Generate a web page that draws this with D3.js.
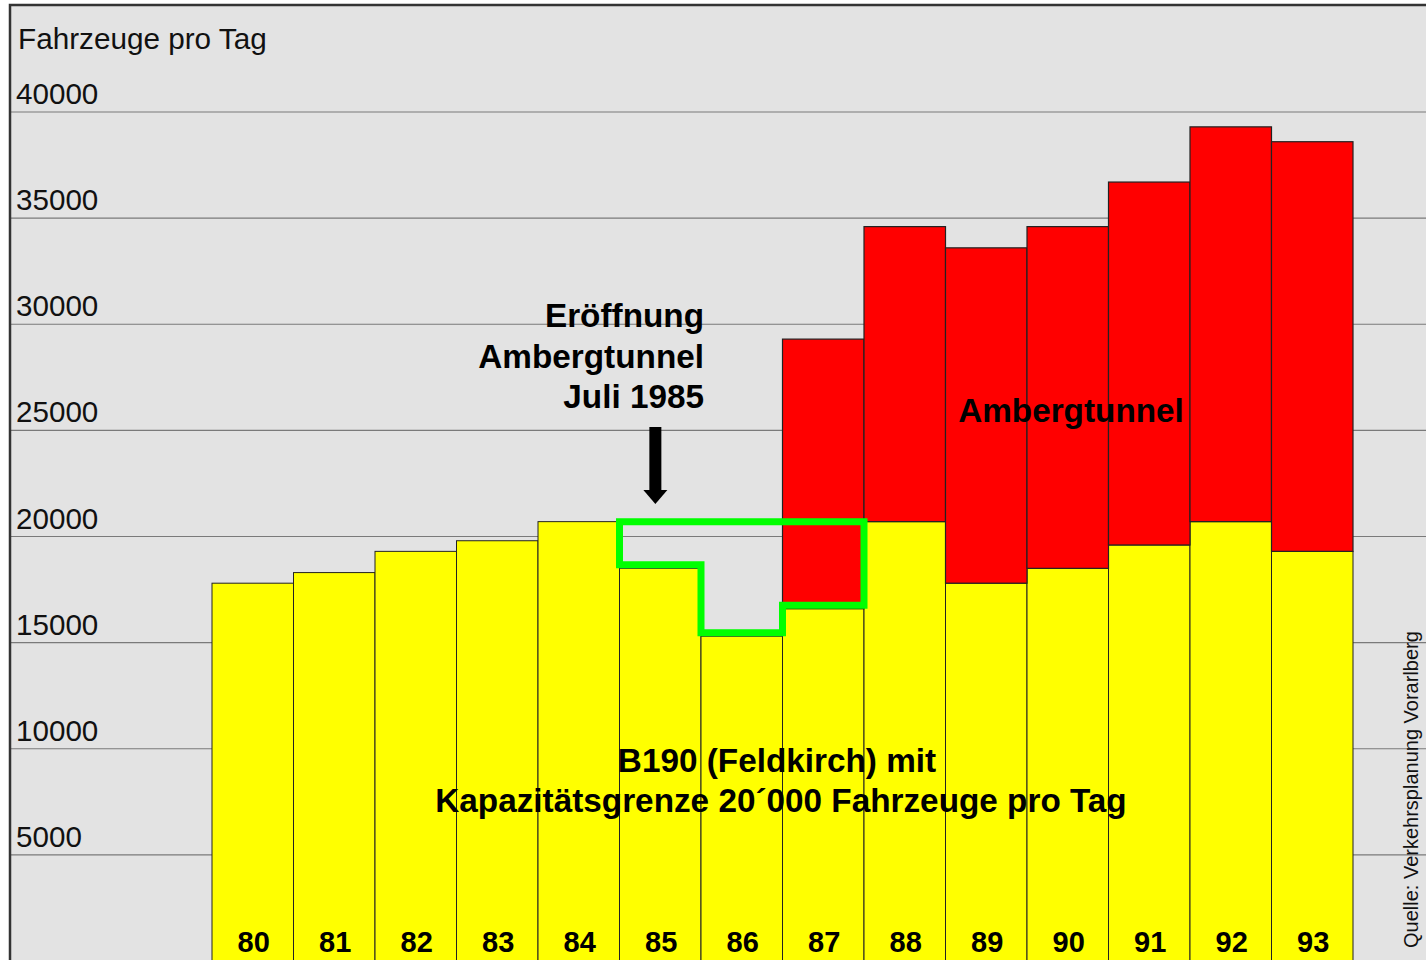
<!DOCTYPE html>
<html>
<head>
<meta charset="utf-8">
<script src="https://cdn.jsdelivr.net/npm/d3@7"></script>
<style>
  html, body { margin: 0; padding: 0; background: #ffffff; }
  svg { display: block; }
  text { font-family: "Liberation Sans", Arial, sans-serif; }
</style>
</head>
<body>
<script>
// Daily traffic through Feldkirch: B190 and Ambergtunnel, 1980–1993
const years = ["80", "81", "82", "83", "84", "85", "86", "87", "88", "89", "90", "91", "92", "93"];
const b190 = [17800, 18300, 19300, 19800, 20700, 18500, 15300, 16600, 20700, 17800, 18500, 19600, 20700, 19300];
const tunnel = [0, 0, 0, 0, 0, 0, 0, 12700, 13900, 15800, 16100, 17100, 18600, 19300];
const yTicks = [5000, 10000, 15000, 20000, 25000, 30000, 35000, 40000];

// Years in which B190 traffic fell short of its previous peak
const gapYears = ["85", "86", "87"];
const gapTop = 20700;

const W = 1426, H = 960;
const frameLeft = 10, frameTop = 5;

const svg = d3.select("body").append("svg")
  .attr("width", W).attr("height", H);

const x = d3.scaleBand().domain(years).range([212, 1353]).padding(0);
const y = d3.scaleLinear().domain([0, 40000]).range([961, 112]);

// plot frame
svg.append("rect")
  .attr("x", frameLeft).attr("y", frameTop)
  .attr("width", W - frameLeft + 5).attr("height", H - frameTop + 5)
  .attr("fill", "#e3e3e3");

// horizontal grid lines
svg.append("g").selectAll("line").data(yTicks).join("line")
  .attr("x1", frameLeft).attr("x2", W)
  .attr("y1", d => y(d)).attr("y2", d => y(d))
  .attr("stroke", "#7a7a7a").attr("stroke-width", 1.2);

// y tick labels, sitting above their grid lines
svg.append("g").selectAll("text").data(yTicks).join("text")
  .attr("x", 16).attr("y", d => y(d) - 8)
  .attr("font-size", 29.6).attr("fill", "#111")
  .text(d => d);

svg.append("text")
  .attr("x", 18).attr("y", 49)
  .attr("font-size", 29.7).attr("fill", "#111")
  .text("Fahrzeuge pro Tag");

// B190 bars (yellow)
svg.append("g").selectAll("rect").data(years).join("rect")
  .attr("x", d => x(d)).attr("width", x.bandwidth())
  .attr("y", (d, i) => y(b190[i]))
  .attr("height", (d, i) => y(0) - y(b190[i]))
  .attr("fill", "#ffff00")
  .attr("stroke", "#222").attr("stroke-width", 1);

// Ambergtunnel bars (red), stacked on top
svg.append("g").selectAll("rect").data(years.filter((d, i) => tunnel[i] > 0)).join("rect")
  .attr("x", d => x(d)).attr("width", x.bandwidth())
  .attr("y", d => { const i = years.indexOf(d); return y(b190[i] + tunnel[i]); })
  .attr("height", d => { const i = years.indexOf(d); return y(b190[i]) - y(b190[i] + tunnel[i]); })
  .attr("fill", "#ff0000")
  .attr("stroke", "#222").attr("stroke-width", 1.2);

// green outline around the missing B190 traffic
const sw = 7;
const gapPts = [];
const gx0 = x(gapYears[0]);
const gx1 = x(gapYears[gapYears.length - 1]) + x.bandwidth();
gapPts.push([gx0, y(gapTop)]);
gapYears.forEach(yr => {
  const v = b190[years.indexOf(yr)];
  gapPts.push([x(yr), y(v) - sw / 2]);
  gapPts.push([x(yr) + x.bandwidth(), y(v) - sw / 2]);
});
gapPts[1][0] = gx0;
gapPts.push([gx1, y(gapTop)]);
svg.append("path")
  .attr("d", d3.line()(gapPts) + "Z")
  .attr("fill", "none")
  .attr("stroke", "#00ff00")
  .attr("stroke-width", sw)
  .attr("stroke-linejoin", "miter");

// year labels inside the bars
svg.append("g").selectAll("text").data(years).join("text")
  .attr("x", d => x(d) + x.bandwidth() / 2 + 1).attr("y", 952)
  .attr("text-anchor", "middle")
  .attr("font-size", 29).attr("font-weight", "bold").attr("fill", "#000")
  .text(d => d);

// annotation: tunnel opening
const openLines = ["Eröffnung", "Ambergtunnel", "Juli 1985"];
svg.append("g").selectAll("text").data(openLines).join("text")
  .attr("x", 704).attr("y", (d, i) => 327 + i * 40.5)
  .attr("text-anchor", "end")
  .attr("font-size", 33.3).attr("font-weight", "bold").attr("fill", "#000")
  .text(d => d);

const ax = x("85") + x.bandwidth() * 0.44;
svg.append("rect")
  .attr("x", ax - 6).attr("y", 427).attr("width", 12).attr("height", 64)
  .attr("fill", "#000");
svg.append("path")
  .attr("d", `M${ax - 12},490 L${ax + 12},490 L${ax},504 Z`)
  .attr("fill", "#000");

svg.append("text")
  .attr("x", 1071).attr("y", 422)
  .attr("text-anchor", "middle")
  .attr("font-size", 33.3).attr("font-weight", "bold").attr("fill", "#000")
  .text("Ambergtunnel");

const b190Lines = ["B190 (Feldkirch) mit", "Kapazitätsgrenze 20´000 Fahrzeuge pro Tag"];
svg.append("g").selectAll("text").data(b190Lines).join("text")
  .attr("x", (d, i) => i === 0 ? 777 : 781).attr("y", (d, i) => 772 + i * 40)
  .attr("text-anchor", "middle")
  .attr("font-size", 33.3).attr("font-weight", "bold").attr("fill", "#000")
  .text(d => d);

// source note along the right edge
svg.append("text")
  .attr("transform", "translate(1418,948) rotate(-90)")
  .attr("font-size", 20).attr("fill", "#111")
  .text("Quelle: Verkehrsplanung Vorarlberg");

// frame border (top and left)
svg.append("path")
  .attr("d", `M${frameLeft},${H} L${frameLeft},${frameTop} L${W},${frameTop}`)
  .attr("fill", "none").attr("stroke", "#333").attr("stroke-width", 2.5);
</script>
</body>
</html>
